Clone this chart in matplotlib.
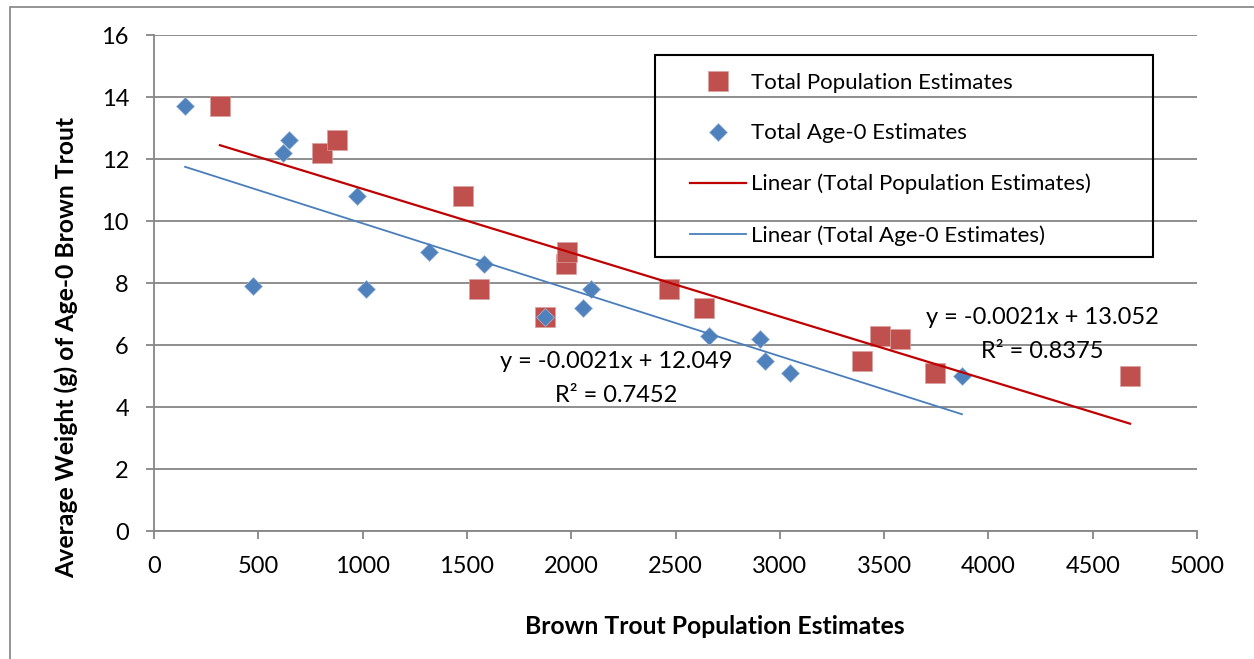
import numpy as np
import matplotlib
matplotlib.use("Agg")
import matplotlib.pyplot as plt
from matplotlib.patches import Rectangle

plt.rcParams['font.family'] = ['Lato', 'DejaVu Sans']

# Data
pop_x = [316, 805, 877, 1481, 1558, 1874, 1975, 1980, 2469, 2637, 3394, 3480, 3576, 3744, 4679]
pop_y = [13.7, 12.2, 12.6, 10.8, 7.8, 6.9, 8.6, 9.0, 7.8, 7.2, 5.5, 6.3, 6.2, 5.1, 5.0]
age0_x = [149, 618, 647, 475, 973, 1016, 1318, 1582, 1874, 2057, 2094, 2661, 2905, 2929, 3049, 3873]
age0_y = [13.7, 12.2, 12.6, 7.9, 10.8, 7.8, 9.0, 8.6, 6.9, 7.2, 7.8, 6.3, 6.2, 5.5, 5.1, 5.0]
x_ticks = [0, 500, 1000, 1500, 2000, 2500, 3000, 3500, 4000, 4500, 5000]
y_ticks = [0, 2, 4, 6, 8, 10, 12, 14, 16]
eq_pop = "y = -0.0021x + 13.052\nR² = 0.8375"
eq_age0 = "y = -0.0021x + 12.049\nR² = 0.7452"

W, H = 1254, 659
fig = plt.figure(figsize=(W / 100, H / 100), dpi=100)
ax = fig.add_axes([154 / W, 1 - 531 / H, (1197 - 154) / W, (531 - 35) / H])

# outer frame
fig.patches.append(Rectangle((10 / W, -0.05), 1.2, 1 - 7 / H + 0.05, transform=fig.transFigure,
                             fill=False, edgecolor='#8c8c8c', lw=1.3))

red = '#C0504D'
blue = '#4F81BD'
ax.plot(pop_x, pop_y, 's', color=red, markersize=14, markeredgewidth=0.5,
        markeredgecolor='#d9a09e', label='Total Population Estimates', zorder=3)
ax.plot(age0_x, age0_y, 'D', color=blue, markersize=9.6, markeredgewidth=0.5,
        markeredgecolor='#a0b8d8', label='Total Age-0 Estimates', zorder=4)

for xs, ys, col, lw, lab in [(pop_x, pop_y, '#C00000', 1.6, 'Linear (Total Population Estimates)'),
                             (age0_x, age0_y, '#4A7EBB', 1.3, 'Linear (Total Age-0 Estimates)')]:
    m, b = np.polyfit(xs, ys, 1)
    xx = np.array([min(xs), max(xs)])
    ax.plot(xx, m * xx + b, '-', color=col, lw=lw, label=lab, zorder=5)

ax.set_xlim(0, 5000)
ax.set_ylim(0, 16)
ax.set_xticks(x_ticks)
ax.set_yticks(y_ticks)
ax.grid(axis='y', color='#868686', lw=1.3)
ax.set_axisbelow(True)
for s in ['top', 'right']:
    ax.spines[s].set_visible(False)
for s in ['left', 'bottom']:
    ax.spines[s].set_color('#868686')
    ax.spines[s].set_linewidth(1.3)
ax.tick_params(axis='both', direction='out', length=6, width=1.3, color='#868686',
               labelsize=17, colors='black')
ax.tick_params(axis='y', pad=12)
ax.tick_params(axis='x', pad=12)
for t in ax.get_xticklabels() + ax.get_yticklabels():
    t.set_color('black')

fig.text(66 / W, 1 - 347 / H, 'Average Weight (g) of Age-0 Brown Trout', rotation=90,
         ha='center', va='center', fontsize=17.8, fontweight='bold')
fig.text(715 / W, 1 - 626 / H, 'Brown Trout Population Estimates', ha='center', va='center',
         fontsize=17.8, fontweight='bold')

ax.text(4257, 6.35, eq_pop, ha='center', va='center', fontsize=17, linespacing=1.75)
ax.text(2215, 4.92, eq_age0, ha='center', va='center', fontsize=17, linespacing=1.75)

# legend frame and legend
def ax_coords(px, py):
    return ((px - 154) / (1197 - 154), (531 - py) / (531 - 35))

x0, y0 = ax_coords(655, 257)
x1, y1 = ax_coords(1153, 55)
ax.add_patch(Rectangle((x0, y0), x1 - x0, y1 - y0, transform=ax.transAxes, fill=False,
                       edgecolor='black', lw=1.5, zorder=6))
lx, ly = ax_coords(690, 73)
leg = ax.legend(loc='upper left', bbox_to_anchor=(lx, ly), frameon=False, fontsize=16,
                borderpad=0, borderaxespad=0, handlelength=2.5, handletextpad=0.25,
                labelspacing=1.37, numpoints=1)
leg.set_zorder(7)

fig.savefig('out.png', dpi=100)
